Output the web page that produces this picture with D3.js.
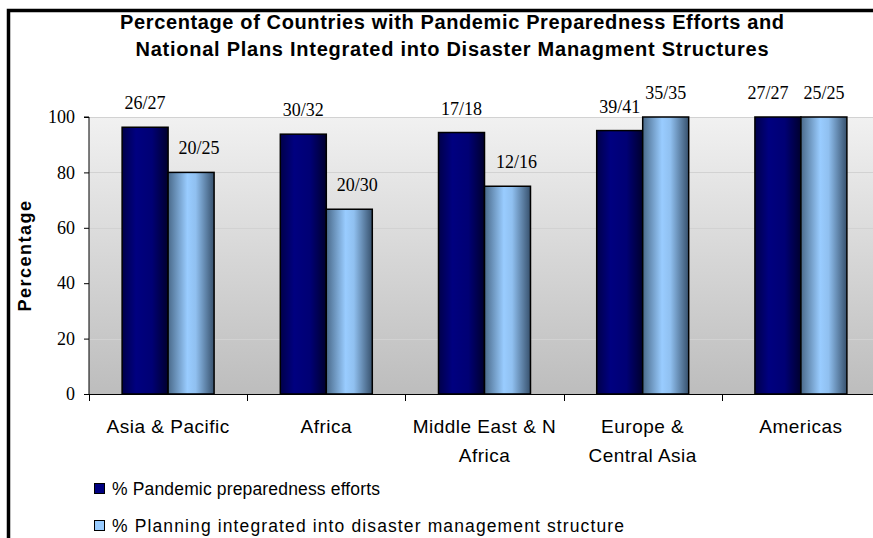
<!DOCTYPE html>
<html><head><meta charset="utf-8">
<script src="https://cdn.jsdelivr.net/npm/d3@7"></script>
<style>html,body{margin:0;padding:0;background:#fff;overflow:hidden}</style>
</head><body>
<svg id="chart" width="873" height="538"></svg>
<script>
const categories = [["Asia & Pacific"], ["Africa"], ["Middle East & N", "Africa"], ["Europe &", "Central Asia"], ["Americas"]];
const seriesNames = ["% Pandemic preparedness efforts", "% Planning integrated into disaster management structure"];
const preparedness = [96.3, 93.8, 94.4, 95.1, 100];
const integrated = [80, 66.7, 75, 100, 100];
const preparednessLabels = ["26/27", "30/32", "17/18", "39/41", "27/27"];
const integratedLabels = ["20/25", "20/30", "12/16", "35/35", "25/25"];
const yTicks = [0, 20, 40, 60, 80, 100];
const titleLines = ["Percentage of Countries with Pandemic Preparedness Efforts and", "National Plans Integrated into Disaster Managment Structures"];
const yTitle = "Percentage";
// layout tweaks
const labelNudge = [[0, 8], [0, 8], [0, 9], [0, 0], [-10, 0]];
const titleWidths = [664, 633];
const legendWidths = [268, 512];

const svg = d3.select("#chart");
const defs = svg.append("defs");

const bg = defs.append("linearGradient").attr("id", "bg").attr("x1", 0).attr("y1", 0).attr("x2", 0).attr("y2", 1);
bg.append("stop").attr("offset", "0%").attr("stop-color", "#f1f1f1");
bg.append("stop").attr("offset", "100%").attr("stop-color", "#bdbdbd");

const g1 = defs.append("linearGradient").attr("id", "dark").attr("x1", 0).attr("y1", 0).attr("x2", 1).attr("y2", 0);
g1.append("stop").attr("offset", "0%").attr("stop-color", "#00004a");
g1.append("stop").attr("offset", "30%").attr("stop-color", "#000080");
g1.append("stop").attr("offset", "65%").attr("stop-color", "#000074");
g1.append("stop").attr("offset", "100%").attr("stop-color", "#00002e");

const g2 = defs.append("linearGradient").attr("id", "light").attr("x1", 0).attr("y1", 0).attr("x2", 1).attr("y2", 0);
g2.append("stop").attr("offset", "0%").attr("stop-color", "#4a6a8a");
g2.append("stop").attr("offset", "42%").attr("stop-color", "#99ccff");
g2.append("stop").attr("offset", "60%").attr("stop-color", "#90c0f0");
g2.append("stop").attr("offset", "100%").attr("stop-color", "#37516d");

const plot = {left: 89, top: 117, right: 880, bottom: 394};

const x = d3.scaleBand().domain(d3.range(categories.length)).range([plot.left, plot.right]).paddingInner(0).paddingOuter(0);
const inner = d3.scaleBand().domain([0, 1]).range([0, x.bandwidth()]).paddingOuter(0.72).paddingInner(0);
const y = d3.scaleLinear().domain([0, 100]).range([plot.bottom, plot.top]);

// border
svg.append("path").attr("d", `M8.5,540 L8.5,10.5 L880,10.5`).attr("fill", "none").attr("stroke", "#000").attr("stroke-width", 3.5);

// plot background
svg.append("rect").attr("x", plot.left).attr("y", plot.top).attr("width", plot.right - plot.left).attr("height", plot.bottom - plot.top).attr("fill", "url(#bg)");

// gridlines
svg.append("g").selectAll("line").data(yTicks.filter(d => d > 0)).join("line")
  .attr("x1", plot.left).attr("x2", plot.right)
  .attr("y1", d => Math.round(y(d)) + 0.5).attr("y2", d => Math.round(y(d)) + 0.5)
  .attr("stroke", "#d2d2d2").attr("stroke-width", 1.2);

// bars
const series = [
  {vals: preparedness, labels: preparednessLabels, fill: "url(#dark)"},
  {vals: integrated, labels: integratedLabels, fill: "url(#light)"}
];
series.forEach((s, si) => {
  svg.append("g").selectAll("rect").data(s.vals).join("rect")
    .attr("x", (d, i) => x(i) + inner(si))
    .attr("y", d => y(d))
    .attr("width", inner.bandwidth())
    .attr("height", d => y(0) - y(d))
    .attr("fill", s.fill).attr("stroke", "#000").attr("stroke-width", 1.5);
  svg.append("g").selectAll("text").data(s.vals).join("text")
    .attr("x", (d, i) => x(i) + inner(si) + inner.bandwidth() / 2 + labelNudge[i][si])
    .attr("y", d => y(d) - 18)
    .attr("text-anchor", "middle")
    .attr("font-family", "'Liberation Serif', 'Times New Roman', serif")
    .attr("font-size", 18).attr("fill", "#000")
    .text((d, i) => s.labels[i]);
});

// y axis
const yAxis = svg.append("g").attr("transform", `translate(${plot.left},0)`)
  .call(d3.axisLeft(y).tickValues(yTicks).tickSize(5).tickPadding(9).tickFormat(d3.format("d")));
yAxis.select(".domain").attr("stroke", "#000").attr("d", `M-5,${plot.top}H0V${plot.bottom}`);
yAxis.selectAll(".tick line").attr("stroke", "#000");
yAxis.selectAll("text").attr("font-family", "'Liberation Serif', 'Times New Roman', serif").attr("font-size", 18).attr("fill", "#000");

// x axis
const xAxis = svg.append("g").attr("transform", `translate(0,${plot.bottom})`);
xAxis.append("line").attr("x1", plot.left).attr("x2", plot.right).attr("y1", 0.5).attr("y2", 0.5).attr("stroke", "#000");
xAxis.selectAll("line.t").data(d3.range(categories.length + 1)).join("line").attr("class", "t")
  .attr("x1", i => Math.round(plot.left + i * x.step()) + 0.5).attr("x2", i => Math.round(plot.left + i * x.step()) + 0.5)
  .attr("y1", 0).attr("y2", 7).attr("stroke", "#000");
const cat = xAxis.selectAll("text").data(categories).join("text")
  .attr("text-anchor", "middle")
  .attr("font-family", "'Liberation Sans', Arial, sans-serif")
  .attr("font-size", 19).attr("letter-spacing", 0.5).attr("fill", "#000");
cat.each(function(lines, i) {
  d3.select(this).selectAll("tspan").data(lines).join("tspan")
    .attr("x", x(i) + x.bandwidth() / 2).attr("y", (d, j) => 39 + j * 29).text(d => d);
});

// y title
svg.append("text").attr("transform", `translate(31,${(plot.top + plot.bottom) / 2}) rotate(-90)`)
  .attr("text-anchor", "middle")
  .attr("font-family", "'Liberation Sans', Arial, sans-serif").attr("font-weight", "bold")
  .attr("font-size", 18).attr("letter-spacing", 1.5).text(yTitle);

// title
svg.append("g").selectAll("text").data(titleLines).join("text")
  .attr("x", 452).attr("y", (d, i) => 29 + i * 27)
  .attr("text-anchor", "middle")
  .attr("font-family", "'Liberation Sans', Arial, sans-serif").attr("font-weight", "bold")
  .attr("font-size", 20)
  .attr("textLength", (d, i) => titleWidths[i]).attr("lengthAdjust", "spacing")
  .text(d => d);

// legend
const leg = svg.append("g").selectAll("g").data(seriesNames).join("g")
  .attr("transform", (d, i) => `translate(94,${483 + i * 37})`);
leg.append("rect").attr("width", 10).attr("height", 10).attr("x", 0.5).attr("y", 0.5)
  .attr("fill", (d, i) => i === 0 ? "#000080" : "#99ccff").attr("stroke", "#000").attr("stroke-width", 1);
leg.append("text").attr("x", 18).attr("y", 12)
  .attr("font-family", "'Liberation Sans', Arial, sans-serif").attr("font-size", 17.5).attr("fill", "#000")
  .attr("textLength", (d, i) => legendWidths[i]).attr("lengthAdjust", "spacing")
  .text(d => d);
</script>
</body></html>
